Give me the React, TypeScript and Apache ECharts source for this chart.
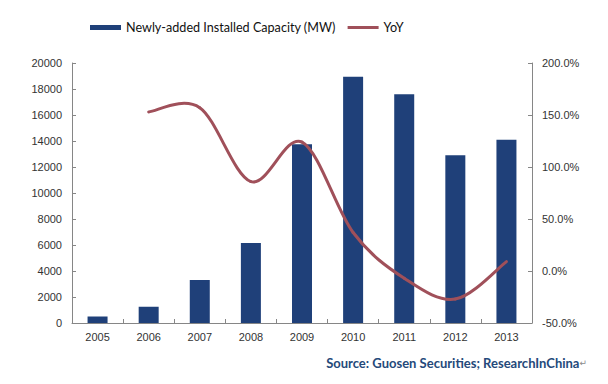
import React, { useEffect, useRef } from "react";
import * as echarts from "echarts";

const years = ["2005", "2006", "2007", "2008", "2009", "2010", "2011", "2012", "2013"];
const capacityMW = [500, 1250, 3300, 6150, 13750, 18950, 17600, 12900, 14100];
const yoyPct: (number | null)[] = [null, 153, 157, 86, 124, 37, -7, -27, 9];
const barName = "Newly-added Installed Capacity (MW)";
const lineName = "YoY";
const sourceText = "Source: Guosen Securities; ResearchInChina";
const returnMark = "\u21B5";

const LINE_COLOR = "#a0505a";

export default function App() {
  const ref = useRef<HTMLDivElement>(null);
  useEffect(() => {
    if (!ref.current) return;
    const chart = echarts.init(ref.current, undefined, { renderer: "svg" });
    const axisLine = { show: true, lineStyle: { color: "#868686", width: 1 } };
    const axisTick = { show: true, inside: true, length: 4, lineStyle: { color: "#868686" } };
    const labelStyle = { color: "#333333", fontSize: 11, fontFamily: "Liberation Sans, Arial, sans-serif" };

    // Catmull-Rom style smoothing (like the spreadsheet's smoothed line), through api.coord
    const renderSegment = (params: any, api: any) => {
      const i = params.dataIndex;
      const n = yoyPct.length;
      if (i >= n - 1 || yoyPct[i] == null || yoyPct[i + 1] == null) return null;
      const pt = (k: number) => api.coord([k, yoyPct[k] as number]);
      const p1 = pt(i);
      const p2 = pt(i + 1);
      const p0 = i - 1 >= 0 && yoyPct[i - 1] != null ? pt(i - 1) : p1;
      const p3 = i + 2 < n && yoyPct[i + 2] != null ? pt(i + 2) : p2;
      const k = 1 / 6;
      return {
        type: "bezierCurve",
        shape: {
          x1: p1[0],
          y1: p1[1],
          cpx1: p1[0] + (p2[0] - p0[0]) * k,
          cpy1: p1[1] + (p2[1] - p0[1]) * k,
          cpx2: p2[0] - (p3[0] - p1[0]) * k,
          cpy2: p2[1] - (p3[1] - p1[1]) * k,
          x2: p2[0],
          y2: p2[1],
        },
        style: { stroke: LINE_COLOR, lineWidth: 3, fill: null, lineCap: "round" },
      };
    };

    chart.setOption({
      animation: false,
      backgroundColor: "#ffffff",
      grid: { left: 72, right: 76, top: 63, bottom: 61 },
      legend: {
        left: 85,
        top: 16,
        itemWidth: 31,
        itemHeight: 5,
        itemGap: 12,
        textStyle: { color: "#111111", fontSize: 12.6, fontFamily: "Lato, sans-serif" },
        data: [
          { name: barName, icon: "rect" },
          { name: lineName, icon: "path://M0,0H31V3H0Z", itemStyle: { color: LINE_COLOR } },
        ],
      },
      xAxis: {
        type: "category",
        data: years,
        axisLine,
        axisTick: { ...axisTick, alignWithLabel: false },
        axisLabel: { ...labelStyle, margin: 8 },
      },
      yAxis: [
        {
          type: "value",
          min: 0,
          max: 20000,
          interval: 2000,
          axisLine,
          axisTick,
          splitLine: { show: false },
          axisLabel: { ...labelStyle, margin: 10, formatter: (v: number) => String(v) },
        },
        {
          type: "value",
          min: -50,
          max: 200,
          interval: 50,
          axisLine,
          axisTick,
          splitLine: { show: false },
          axisLabel: { ...labelStyle, margin: 10, formatter: (v: number) => v.toFixed(1) + "%" },
        },
      ],
      series: [
        {
          name: barName,
          type: "bar",
          data: capacityMW,
          barWidth: 20,
          itemStyle: { color: "#1f4079" },
        },
        {
          name: lineName,
          type: "custom",
          yAxisIndex: 1,
          coordinateSystem: "cartesian2d",
          data: yoyPct.map((v, i) => [i, v == null ? "-" : v]),
          encode: { x: 0, y: 1 },
          itemStyle: { color: LINE_COLOR },
          renderItem: renderSegment,
          z: 3,
        },
      ],
      graphic: [
        {
          type: "text",
          right: 21,
          top: 356,
          style: {
            text: "{a|" + sourceText + "}{b|" + returnMark + "}",
            rich: {
              a: { fill: "#24497a", fontSize: 13, fontWeight: "bold", fontFamily: "Lato, sans-serif" },
              b: { fill: "#8a8a8a", fontSize: 9, fontFamily: "DejaVu Sans, sans-serif" },
            },
          },
        },
      ],
    });
    return () => chart.dispose();
  }, []);
  return (
    <div
      ref={ref}
      style={{ position: "fixed", left: 0, top: 0, width: 608, height: 384, background: "#fff" }}
    />
  );
}
